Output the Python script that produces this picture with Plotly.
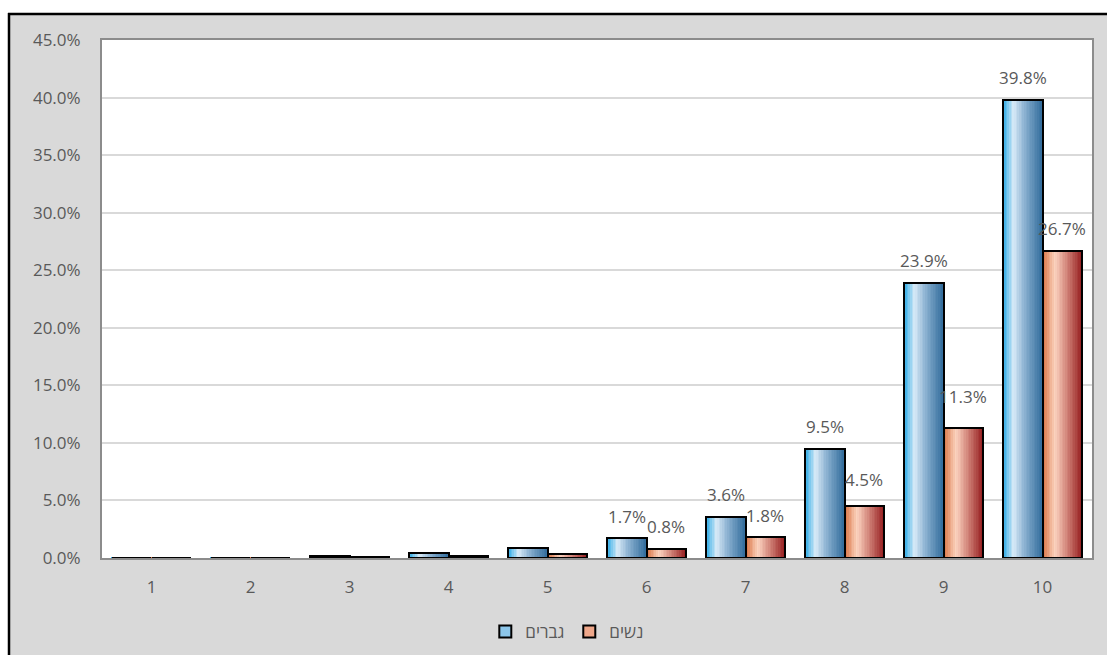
import plotly.graph_objects as go

# Categories and series (percent)
categories = [1, 2, 3, 4, 5, 6, 7, 8, 9, 10]
men = [0.03, 0.03, 0.15, 0.45, 0.85, 1.7, 3.6, 9.5, 23.9, 39.8]
women = [0.02, 0.02, 0.05, 0.15, 0.35, 0.8, 1.8, 4.5, 11.3, 26.7]
labeled_from = 6  # data labels are drawn from this category on
series_names = ["גברים", "נשים"]
y_ticks = [0, 5, 10, 15, 20, 25, 30, 35, 40, 45]

W, H = 1107, 655
L, R, T, B = 102, 15, 40, 97
BAR_W = 0.4
N_STRIPS = 24
FONT = "Segoe UI, Open Sans, DejaVu Sans, sans-serif"
GREY_TXT = "#595959"
FS = 17

blue_stops = [(0.0, (30, 166, 229)), (0.28, (216, 234, 247)), (0.55, (140, 178, 210)), (1.0, (50, 108, 155))]
red_stops = [(0.0, (214, 106, 56)), (0.32, (252, 212, 192)), (0.6, (214, 140, 128)), (1.0, (150, 30, 32))]


def grad(stops, t):
    for (t0, c0), (t1, c1) in zip(stops, stops[1:]):
        if t0 <= t <= t1:
            f = (t - t0) / (t1 - t0)
            return "rgb(%d,%d,%d)" % tuple(round(a + (b - a) * f) for a, b in zip(c0, c1))
    return "rgb(%d,%d,%d)" % stops[-1][1]


fig = go.Figure()


def add_series(values, offset, stops, name, legend_color):
    sw = BAR_W / N_STRIPS
    for i in range(N_STRIPS):
        fig.add_trace(go.Bar(
            x=categories, y=values, offset=offset + i * sw, width=sw * 1.15,
            marker=dict(color=grad(stops, (i + 0.5) / N_STRIPS), line=dict(width=0)),
            showlegend=False, hoverinfo="skip"))
    # black outline over the gradient strips
    fig.add_trace(go.Bar(
        x=categories, y=values, offset=offset, width=BAR_W,
        marker=dict(color="rgba(0,0,0,0)", line=dict(color="black", width=2)),
        showlegend=False, name=name))
    # legend entry
    fig.add_trace(go.Bar(
        x=[None], y=[None], name=name,
        marker=dict(color=legend_color, line=dict(color="black", width=2))))


add_series(men, -BAR_W, blue_stops, series_names[0], "#8cc6ea")
add_series(women, 0.0, red_stops, series_names[1], "#eea78a")

# label lift above the bar top (px); a few labels sit higher to clear neighbours
label_lift = 22
extra_lift = {(8, 1): 5, (9, 1): 9}

annotations = []
for c, m, w in zip(categories, men, women):
    if c < labeled_from:
        continue
    for k, (v, dx) in enumerate(((m, -BAR_W / 2), (w, BAR_W / 2))):
        annotations.append(dict(
            x=c + dx, y=v, xref="x", yref="y", text=f"{v:.1f}%", showarrow=False,
            yshift=label_lift + extra_lift.get((c, k), 0),
            font=dict(size=FS, color=GREY_TXT, family=FONT)))

PW, PH = W - L - R, H - T - B
# chart frame: white strip above/left, black border lines
shapes = [
    dict(type="rect", xref="paper", yref="paper", layer="below",
         x0=-L / PW, x1=(W - L) / PW, y0=1 + (T - 13) / PH, y1=1 + T / PH,
         fillcolor="white", line=dict(width=0)),
    dict(type="rect", xref="paper", yref="paper", layer="below",
         x0=-L / PW, x1=-(L - 8) / PW, y0=-B / PH, y1=1 + T / PH,
         fillcolor="white", line=dict(width=0)),
    dict(type="line", xref="paper", yref="paper",
         x0=-(L - 8) / PW, x1=(W - L) / PW, y0=1 + (T - 14) / PH, y1=1 + (T - 14) / PH,
         line=dict(color="black", width=2.5)),
    dict(type="line", xref="paper", yref="paper",
         x0=-(L - 9) / PW, x1=-(L - 9) / PW, y0=-B / PH, y1=1 + (T - 13) / PH,
         line=dict(color="black", width=2.5)),
]

fig.update_layout(
    width=W, height=H,
    margin=dict(l=L, r=R, t=T, b=B, autoexpand=False),
    paper_bgcolor="#d9d9d9", plot_bgcolor="white",
    barmode="overlay", bargap=0,
    font=dict(family=FONT, size=FS, color=GREY_TXT),
    showlegend=True,
    legend=dict(orientation="h", x=0.47, xanchor="center", y=-74 / PH, yanchor="middle",
                font=dict(size=FS, color=GREY_TXT, family=FONT), itemwidth=30,
                bgcolor="rgba(0,0,0,0)", traceorder="normal"),
    annotations=annotations,
    shapes=shapes,
)

fig.update_xaxes(
    range=[0.5, 10.5], tickvals=categories, ticktext=[str(c) for c in categories],
    showgrid=False, zeroline=False, showline=True, mirror=True,
    linecolor="#8c8c8c", linewidth=2,
    ticks="outside", ticklen=13, tickcolor="rgba(0,0,0,0)",
    tickfont=dict(size=FS, color=GREY_TXT, family=FONT))
fig.update_yaxes(
    range=[0, 45], tickvals=y_ticks, ticktext=[f"{v:.1f}%" for v in y_ticks],
    showgrid=True, gridcolor="#d9d9d9", gridwidth=2, zeroline=False,
    showline=True, mirror=True, linecolor="#8c8c8c", linewidth=2,
    ticks="outside", ticklen=16, tickcolor="rgba(0,0,0,0)",
    tickfont=dict(size=FS, color=GREY_TXT, family=FONT))

fig.write_html("out.html")
